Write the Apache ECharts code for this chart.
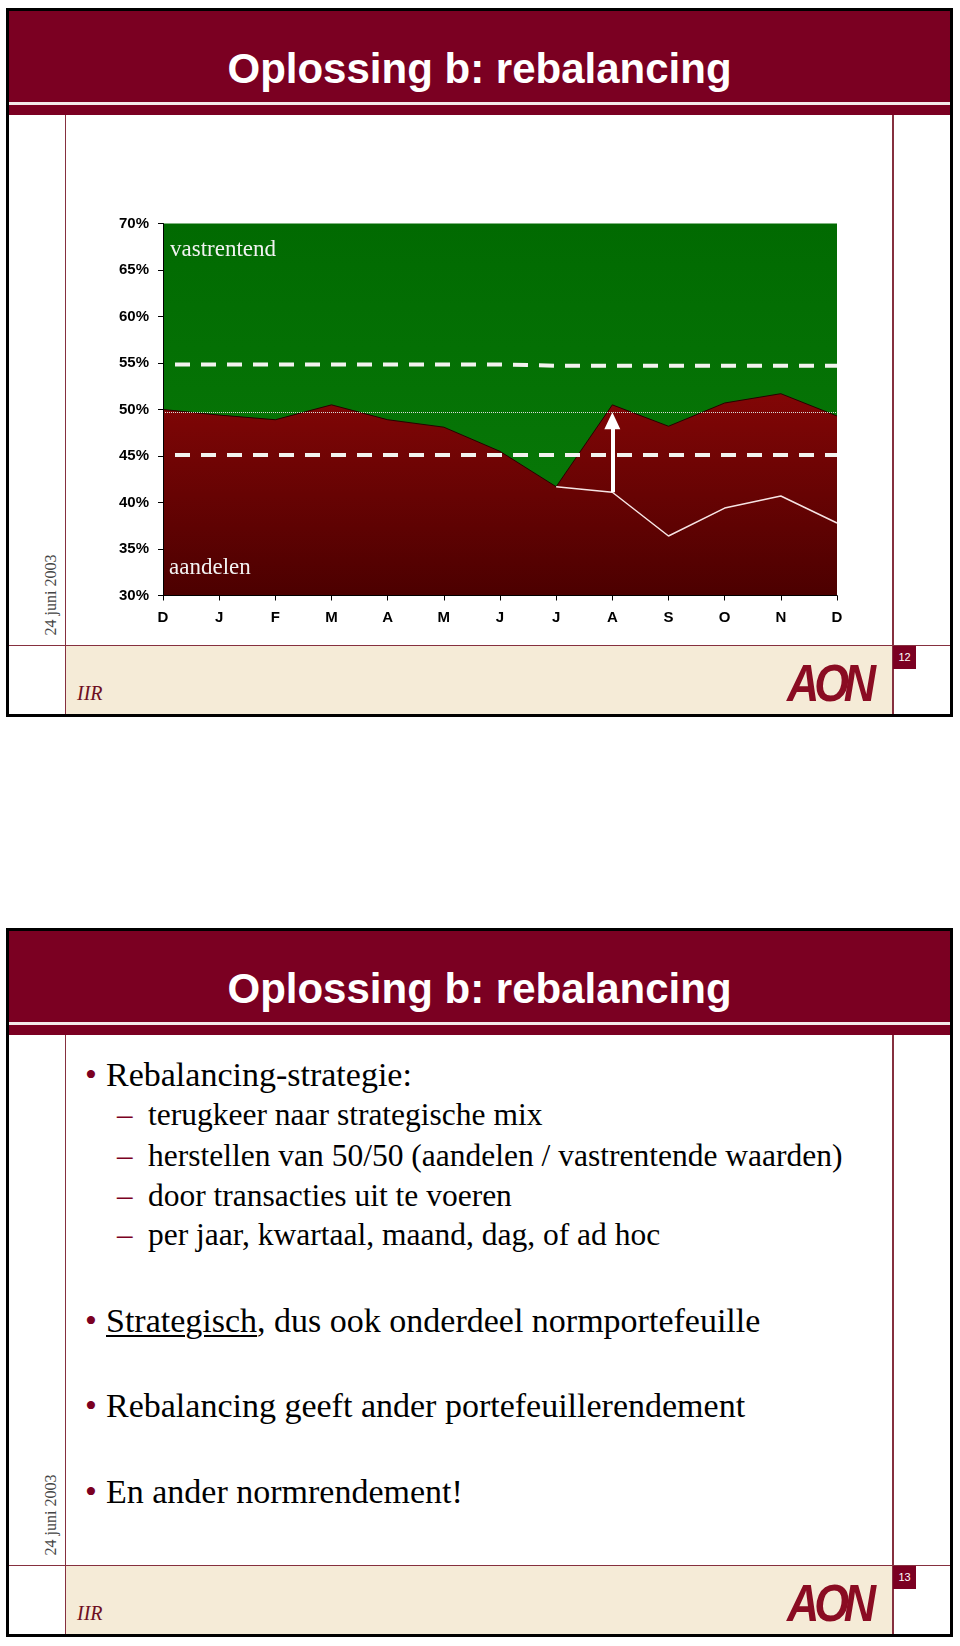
<!DOCTYPE html>
<html>
<head>
<meta charset="utf-8">
<script src="https://cdn.jsdelivr.net/npm/echarts@6/dist/echarts.min.js"></script>
<style>
html,body{margin:0;padding:0;background:#fff;}
body{width:960px;height:1646px;position:relative;overflow:hidden;}
.box{position:absolute;left:6px;width:947px;height:709px;border:3px solid #000;box-sizing:border-box;}
.band{position:absolute;left:9px;width:941px;height:104px;background:#7b0022;}
.wline{position:absolute;left:9px;width:941px;height:3px;background:#f4e9ea;}
.title{position:absolute;left:6px;width:947px;text-align:center;font:bold 42px/42px "Liberation Sans",Arial,sans-serif;color:#fff;white-space:nowrap;}
.vl{position:absolute;width:1.5px;height:599px;background:#86303f;}
.hl{position:absolute;left:9px;width:941px;height:1.5px;background:#86303f;}
.beige{position:absolute;left:66px;width:826px;height:68px;background:#f5ebd7;}
.iir{position:absolute;left:77px;font:italic 20px/20px "Liberation Serif","Times New Roman",serif;color:#6e0f22;white-space:nowrap;}
.aon{position:absolute;left:787px;font:italic bold 52px/52px "Liberation Sans",Arial,sans-serif;color:#8a0c22;letter-spacing:-6px;transform:scaleX(0.86);transform-origin:0 0;white-space:nowrap;}
.pg{position:absolute;left:893px;width:23px;height:23px;background:#7b0022;color:#fff;font:11px/23px "Liberation Sans",Arial,sans-serif;text-align:center;}
.date{position:absolute;left:51px;font:16px/16px "Liberation Serif","Times New Roman",serif;color:#444;white-space:nowrap;transform:translate(-50%,-50%) rotate(-90deg);}
.main{position:absolute;left:106px;font:34px/34px "Liberation Serif","Times New Roman",serif;color:#000;white-space:nowrap;}
.sub{position:absolute;left:148px;font:31.5px/31.5px "Liberation Serif","Times New Roman",serif;color:#000;white-space:nowrap;}
.bul{position:absolute;left:85px;font:34px/34px "Liberation Serif",serif;color:#7b0022;}
.dash{position:absolute;left:117px;font:31px/31px "Liberation Serif",serif;color:#7b0022;}
#chart{position:absolute;left:66px;top:114px;width:826px;height:530px;}
</style>
</head>
<body>
<div id="slides"></div>
<div id="chart"></div>
<script>
// ---- data ----
const maanden = ['D','J','F','M','A','M','J','J','A','S','O','N','D'];
const aandelen = [50.0, 49.4, 48.9, 50.5, 48.9, 48.1, 45.5, 41.7, 50.5, 48.2, 50.7, 51.7, 49.3];
const zonderRebalancing = [null, null, null, null, null, null, null, 41.7, 41.1, 36.4, 39.4, 40.7, 37.8];
const bovengrens = [54.85, 54.85, 54.85, 54.85, 54.85, 54.85, 54.85, 54.7, 54.7, 54.7, 54.7, 54.7, 54.7];
const ondergrens = [45.1, 45.1, 45.1, 45.1, 45.1, 45.1, 45.1, 45.1, 45.1, 45.1, 45.1, 45.1, 45.1];
const middenlijn = 49.7;
const rebalancingMaand = 8;
const pijl = [41.1, 48.8];
const yMin = 30, yMax = 70, yStap = 5;
const titel = 'Oplossing b: rebalancing';
const datum = '24 juni 2003';
const punten2 = [
  {t:'main', txt:'Rebalancing-strategie:', base:1086},
  {t:'sub', txt:'terugkeer naar strategische mix', base:1125},
  {t:'sub', txt:'herstellen van 50/50 (aandelen / vastrentende waarden)', base:1166},
  {t:'sub', txt:'door transacties uit te voeren', base:1206},
  {t:'sub', txt:'per jaar, kwartaal, maand, dag, of ad hoc', base:1245},
  {t:'main', html:'<u style="text-decoration-thickness:1.5px;text-underline-offset:3px">Strategisch</u>, dus ook onderdeel normportefeuille', base:1332},
  {t:'main', txt:'Rebalancing geeft ander portefeuillerendement', base:1417},
  {t:'main', txt:'En ander normrendement!', base:1503}
];

// ---- slide frames ----
const host = document.getElementById('slides');
function el(cls, style, text, html){
  const d = document.createElement('div');
  d.className = cls;
  Object.assign(d.style, style);
  if (html) d.innerHTML = html; else if (text) d.textContent = text;
  host.appendChild(d);
  return d;
}
function slide(T, num){
  el('band', {top:(T+11)+'px'});
  el('wline', {top:(T+102)+'px'});
  el('title', {top:(T+48)+'px'}, titel);
  el('vl', {left:'64.5px', top:(T+115)+'px'});
  el('vl', {left:'892px', top:(T+115)+'px'});
  el('beige', {top:(T+646)+'px'});
  el('hl', {top:(T+644.5)+'px'});
  el('iir', {top:(T+700-16.75)+'px'}, 'IIR');
  el('aon', {top:(T+657)+'px'}, 'AON');
  el('pg', {top:(T+646)+'px'}, String(num));
  el('date', {top:(T+595)+'px'}, datum);
  el('box', {top:(T+8)+'px'});
}
slide(0, 12);
slide(920, 13);
punten2.forEach(p => {
  if (p.t === 'main') {
    const top = p.base - 0.8375*34;
    el('bul', {top: top+'px'}, '•');
    el('main', {top: top+'px'}, p.txt, p.html);
  } else {
    const top = p.base - 0.8375*31.5;
    el('dash', {top: top+'px'}, '–');
    el('sub', {top: top+'px'}, p.txt);
  }
});

// ---- chart ----
const chart = echarts.init(document.getElementById('chart'), null, {renderer:'canvas'});
const option = {
  animation: false,
  grid: {
    left: 97, top: 109.5, width: 674, height: 372, show: true, borderWidth: 0,
    backgroundColor: {type:'linear', x:0, y:0, x2:0, y2:1, colorStops:[{offset:0,color:'#016a01'},{offset:1,color:'#0a7c0a'}]}
  },
  xAxis: {
    type: 'category', data: maanden, boundaryGap: false, z: 6,
    axisLine: {lineStyle: {color:'#000', width:1}},
    axisTick: {show:true, length:5, lineStyle:{color:'#000'}},
    axisLabel: {color:'#000', fontFamily:'Liberation Sans', fontWeight:'bold', fontSize:15, margin:15, interval:0},
    splitLine: {show:false}
  },
  yAxis: {
    type: 'value', min: yMin, max: yMax, interval: yStap, z: 6,
    axisLine: {show:true, lineStyle:{color:'#000', width:1}},
    axisTick: {show:true, length:5, lineStyle:{color:'#000'}},
    axisLabel: {formatter:'{value}%', color:'#000', fontFamily:'Liberation Sans', fontWeight:'bold', fontSize:15, margin:14},
    splitLine: {show:false}
  },
  graphic: [
    {type:'text', left:104, top:124.5, z:10, style:{text:'vastrentend', fill:'#f2f2f2', font:'23px "Liberation Serif"'}},
    {type:'text', left:103, top:442.5, z:10, style:{text:'aandelen', fill:'#f2f2f2', font:'23px "Liberation Serif"'}}
  ],
  series: [
    {
      name:'aandelen', type:'line', data: aandelen, symbol:'none', z:2,
      lineStyle:{color:'#260000', width:1},
      areaStyle:{origin:'start', opacity:1, color:{type:'linear', x:0, y:0, x2:0, y2:1, colorStops:[{offset:0,color:'#820606'},{offset:1,color:'#4c0000'}]}},
      markLine:{silent:true, symbol:'none', z:3, label:{show:false},
        lineStyle:{color:'#dcdcdc', width:1, type:'dotted'},
        data:[{yAxis: middenlijn}]}
    },
    {
      name:'zonder rebalancing', type:'line', data: zonderRebalancing, symbol:'none', z:4,
      lineStyle:{color:'#f6e4e4', width:1.5},
      markLine:{silent:true, z:7, symbol:['none','triangle'], symbolSize:[16,17],
        label:{show:false}, lineStyle:{color:'#ffffff', width:4, type:'solid', opacity:1},
        itemStyle:{color:'#ffffff'},
        data:[[{coord:[rebalancingMaand, pijl[0]]},{coord:[rebalancingMaand, pijl[1]]}]]}
    },
    {
      name:'bovengrens', type:'line', data: bovengrens, symbol:'none', z:5,
      lineStyle:{color:'#f3f3ef', width:4, type:[15,11], dashOffset:14, cap:'butt'}
    },
    {
      name:'ondergrens', type:'line', data: ondergrens, symbol:'none', z:5,
      lineStyle:{color:'#f3f3ef', width:4, type:[15,11], dashOffset:14, cap:'butt'}
    }
  ]
};
chart.setOption(option);
</script>
</body>
</html>
